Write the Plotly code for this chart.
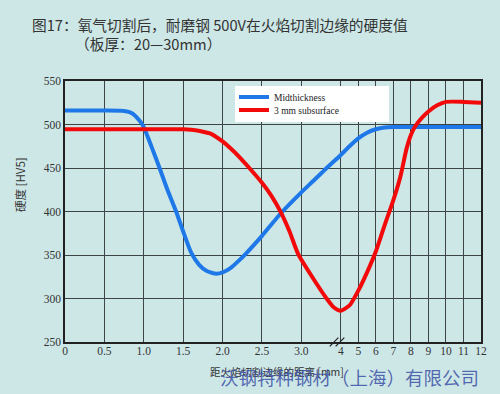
import numpy as np
import plotly.graph_objects as go

# ---- data ----
mid_x = [0, 0.5, 0.75, 0.85, 0.95, 1.0, 1.1, 1.2, 1.3, 1.41, 1.5, 1.6, 1.7, 1.8, 1.92, 2.0,
         2.1, 2.2, 2.3, 2.5, 2.74, 3.0, 3.3, 3.63, 4.0, 4.5, 5.0, 5.5, 6.0, 6.5, 7.0, 8.0,
         9.0, 10.0, 11.0, 12.0]
mid_y = [516, 516, 515.5, 513, 504, 497, 474, 450, 425, 400, 377, 353, 339, 331.5, 328.5,
         330, 335, 343, 352, 372, 398, 422, 435, 449.5, 465, 475, 484, 490.5, 494.5, 496.5,
         497, 497, 497, 497, 497, 497]

sub_x = [0, 1.0, 1.5, 1.6, 1.71, 1.86, 2.0, 2.09, 2.22, 2.32, 2.5, 2.62, 2.74, 2.85, 2.96,
         3.3, 3.64, 3.82, 4.0, 4.5, 5.0, 5.5, 6.0, 6.5, 7.0, 7.4, 7.75, 8.0, 8.25, 8.6, 9.0,
         9.5, 10.0, 11.0, 12.0]
sub_y = [494.5, 494.5, 494.5, 494, 492.5, 489, 480.5, 473.5, 462, 452, 433, 418, 399, 377,
         351, 323, 300, 290, 286, 292, 309, 330, 354, 384, 413, 440, 472, 488, 498, 507, 515,
         522, 526, 526, 525]

x_tick_vals = [0, 0.5, 1.0, 1.5, 2.0, 2.5, 3.0, 4, 5, 6, 7, 8, 9, 10, 11, 12]
x_tick_text = ["0", "0.5", "1.0", "1.5", "2.0", "2.5", "3.0", "4", "5", "6", "7", "8", "9",
               "10", "11", "12"]
y_ticks = [250, 300, 350, 400, 450, 500, 550]

series_names = ["Midthickness", "3 mm subsurface"]


# broken x axis: 0-3 linear, 3-4 compressed, 4-12 compressed
def to_u(x):
    x = np.asarray(x, dtype=float)
    return np.where(x <= 3, x,
                    np.where(x <= 4, 3 + (x - 3) * 0.5, 3.5 + (x - 4) * 0.2225))


BG = "#CDE7E7"
GRID = "#3C4444"
TXT = "#333333"
CJK = "Noto Sans CJK SC"
SERIF = "Liberation Serif"

L, T, W, H = 65, 81, 416, 261  # plot area in pixels


def px(x):
    return (x - L) / W


def py(y):
    return 1 - (y - T) / H


fig = go.Figure()
fig.add_trace(go.Scatter(x=to_u(mid_x), y=mid_y, mode="lines", name=series_names[0],
                         legend="legend",
                         line=dict(color="#1E78E8", width=4, shape="spline", smoothing=0.6)))
fig.add_trace(go.Scatter(x=to_u(sub_x), y=sub_y, mode="lines", name=series_names[1],
                         legend="legend2",
                         line=dict(color="#F20A0A", width=4, shape="spline", smoothing=0.6)))

u_max = float(to_u(12))

# white legend box
fig.add_shape(type="rect", xref="paper", yref="paper",
              x0=px(235), x1=px(389), y0=py(122), y1=py(86),
              fillcolor="white", line=dict(width=0), layer="above")

# axis break mark near the "4" tick
for dx in (0.0, 0.075):
    fig.add_shape(type="line", xref="x", yref="paper",
                  x0=float(to_u(3.72)) + dx, x1=float(to_u(3.72)) + dx + 0.11,
                  y0=-0.017, y1=0.017, line=dict(color="#222", width=1.2))

leg_common = dict(xanchor="left", yanchor="middle", bgcolor="rgba(0,0,0,0)",
                  font=dict(family=SERIF, size=9.5, color="#222"))

fig.update_layout(
    width=500, height=394,
    margin=dict(l=L, r=500 - L - W, t=T, b=394 - T - H),
    paper_bgcolor=BG, plot_bgcolor=BG,
    showlegend=True,
    legend=dict(x=px(234), y=py(97), **leg_common),
    legend2=dict(x=px(234), y=py(110), **leg_common),
    xaxis=dict(range=[0, u_max], tickvals=to_u(x_tick_vals).tolist(), ticktext=x_tick_text,
               showgrid=True, gridcolor=GRID, gridwidth=1.2, zeroline=False,
               showline=True, linecolor="#222", linewidth=1.5, mirror=True,
               tickfont=dict(family=SERIF, size=11.5, color=TXT), ticks="",
               ticklabelstandoff=-3),
    yaxis=dict(range=[250, 550], tickvals=y_ticks, showgrid=True, gridcolor=GRID,
               gridwidth=1.2, zeroline=False, showline=True, linecolor="#222",
               linewidth=1.5, mirror=True, ticks="", ticklabelstandoff=0,
               tickfont=dict(family=SERIF, size=11.5, color=TXT)),
)

# titles
fig.add_annotation(text="图17：氧气切割后，耐磨钢 500V在火焰切割边缘的硬度值",
                   xref="paper", yref="paper", x=px(30), y=py(25),
                   xanchor="left", yanchor="middle", showarrow=False,
                   font=dict(family=CJK, size=14.7, color=TXT))
fig.add_annotation(text="（板厚：20—30mm）",
                   xref="paper", yref="paper", x=px(73), y=py(43),
                   xanchor="left", yanchor="middle", showarrow=False,
                   font=dict(family=CJK, size=14.7, color=TXT))
fig.add_annotation(text="硬度 [HV5]", textangle=-90,
                   xref="paper", yref="paper", x=px(20), y=py(185),
                   xanchor="center", yanchor="middle", showarrow=False,
                   font=dict(family=CJK, size=11.5, color=TXT))
fig.add_annotation(text="距火焰切割边缘的距离 [mm]",
                   xref="paper", yref="paper", x=px(277), y=py(371),
                   xanchor="center", yanchor="middle", showarrow=False,
                   font=dict(family=CJK, size=10.5, color=TXT))
fig.add_annotation(text="沃钢特种钢材（上海）有限公司",
                   xref="paper", yref="paper", x=px(349), y=py(377),
                   xanchor="center", yanchor="middle", showarrow=False,
                   font=dict(family=CJK, size=18.5, color="rgba(60,80,165,0.85)"))

fig.write_html("out.html", config={"displayModeBar": False},
               post_script="document.body.style.margin='0px';"
                           "document.body.style.overflow='hidden';")
